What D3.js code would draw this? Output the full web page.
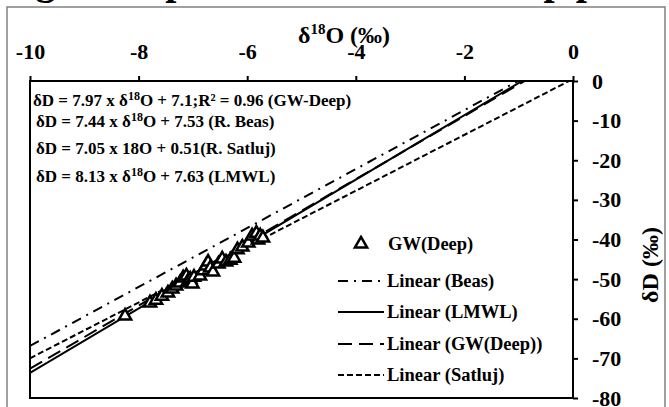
<!DOCTYPE html>
<html>
<head>
<meta charset="utf-8">
<script src="https://cdn.jsdelivr.net/npm/d3@7"></script>
<style>
  body { margin: 0; background: #ffffff; }
  svg { display: block; font-family: "Liberation Serif", "Times New Roman", serif; font-weight: bold; }
</style>
</head>
<body>
<script>
// chart data
var xTicks = [-10, -8, -6, -4, -2, 0];
var yTicks = [0, -10, -20, -30, -40, -50, -60, -70, -80];

// deep groundwater samples (d18O, dD)
var gwX = [-8.25, -7.79, -7.68, -7.57, -7.46, -7.38, -7.31, -7.24, -7.18, -7.12,
           -7.09, -7.05, -7.01, -6.98, -6.87, -6.81, -6.76, -6.72, -6.68, -6.63,
           -6.53, -6.46, -6.39, -6.31, -6.24, -6.18, -6.09, -5.98, -5.91, -5.83,
           -5.80, -5.76, -5.71];
var gwY = [-59.3, -56.0, -55.3, -54.3, -53.5, -52.5, -51.7, -51.0, -49.7, -49.2,
           -50.5, -50.0, -51.2, -49.5, -49.2, -47.9, -46.7, -45.7, -47.2, -48.2,
           -46.2, -44.9, -45.7, -45.2, -44.7, -42.6, -41.9, -40.9, -39.1, -38.4,
           -40.1, -39.1, -39.6];

// regression lines
var fitNames = ["Linear (Beas)", "Linear (LMWL)", "Linear (GW(Deep))", "Linear (Satluj)"];
var fitSlopes = [7.44, 8.13, 7.97, 7.05];
var fitIntercepts = [7.53, 7.63, 7.1, 0.51];
var fitDashes = ["10,6,2,6", null, "14,7", "6,3"];

// equation labels: text before the superscript, superscript, text after
var eqBefore = ["δD = 7.97 x δ", "δD = 7.44 x δ", "δD = 7.05 x 18O + 0.51(R. Satluj)", "δD = 8.13 x δ"];
var eqSup = ["18", "18", "", "18"];
var eqAfter = ["O + 7.1;R² = 0.96 (GW-Deep)", "O + 7.53 (R. Beas)", "", "O + 7.63 (LMWL)"];

// svg variables
var width = 669;
var height = 407;
var left = 30;
var right = 573;
var top_ = 81;
var bottom = 398;

var svg = d3.select("body")
  .append("svg")
  .attr("width", width)
  .attr("height", height);

// outer chart border
svg.append("rect")
   .attr("x", 7)
   .attr("y", 7)
   .attr("width", 658)
   .attr("height", 430)
   .attr("fill", "none")
   .attr("stroke", "#808080")
   .attr("stroke-width", 1.5);

// title, only its lower part is left in the picture
var title = svg.append("text")
   .attr("x", 0)
   .attr("y", -6)
   .style("font-size", "40px")
   .text("Fig. 3 δD plot of δ");
title.append("tspan").attr("dy", -14).style("font-size", "26px").text("18");
title.append("tspan").attr("dy", 14).text("O for all deep piezometers");

// scales
var xScale = d3.scaleLinear().domain([-10, 0]).range([left, right]);
var yScale = d3.scaleLinear().domain([-80, 0]).range([bottom, top_]);

// plain hyphen for negative tick labels
var plainFormat = function(d) { return String(d); };

// clip for trendlines
svg.append("clipPath")
   .attr("id", "plotClip")
   .append("rect")
   .attr("x", left)
   .attr("y", top_)
   .attr("width", right - left)
   .attr("height", bottom - top_);

// x axis on top
var xAxis = d3.axisTop(xScale).tickValues(xTicks).tickFormat(plainFormat)
              .tickSize(5).tickSizeOuter(0).tickPadding(17);
var gx = svg.append("g")
   .attr("transform", "translate(0," + top_ + ")")
   .call(xAxis);
gx.select(".domain").remove();
gx.selectAll("line").attr("stroke", "#000").attr("stroke-width", 2);
gx.selectAll("text")
  .attr("fill", "#000")
  .style("font-size", "22px")
  .style("font-family", "Liberation Serif")
  .style("font-weight", "bold");

// y axis on the right
var yAxis = d3.axisRight(yScale).tickValues(yTicks).tickFormat(plainFormat)
              .tickSize(5).tickSizeOuter(0).tickPadding(14);
var gy = svg.append("g")
   .attr("transform", "translate(" + right + ",0)")
   .call(yAxis);
gy.select(".domain").remove();
gy.selectAll("line").attr("stroke", "#000").attr("stroke-width", 2);
gy.selectAll("text")
  .attr("fill", "#000")
  .style("font-size", "22px")
  .style("font-family", "Liberation Serif")
  .style("font-weight", "bold");

// plot area frame
svg.append("rect")
   .attr("x", left)
   .attr("y", top_)
   .attr("width", right - left)
   .attr("height", bottom - top_)
   .attr("fill", "none")
   .attr("stroke", "#000")
   .attr("stroke-width", 2);

// axis titles
var xTitle = svg.append("text")
   .attr("x", 344)
   .attr("y", 43)
   .attr("text-anchor", "middle")
   .style("font-size", "24px")
   .text("δ");
xTitle.append("tspan").attr("dy", -9).style("font-size", "15px").text("18");
xTitle.append("tspan").attr("dy", 9).text("O (‰)");

svg.append("text")
   .attr("transform", "translate(658,265) rotate(-90)")
   .attr("text-anchor", "middle")
   .style("font-size", "24px")
   .text("δD (‰)");

// trendlines
var lines = svg.append("g").attr("clip-path", "url(#plotClip)");
for (var i = 0; i < fitNames.length; i++) {
  var pts = [-10, 0].map(function(v) { return [v, fitSlopes[i] * v + fitIntercepts[i]]; });
  lines.append("path")
       .attr("d", d3.line().x(function(d) { return xScale(d[0]); }).y(function(d) { return yScale(d[1]); })(pts))
       .attr("fill", "none")
       .attr("stroke", "#000")
       .attr("stroke-width", 2)
       .attr("stroke-dasharray", fitDashes[i]);
}

// groundwater points as open triangles
var triangle = d3.symbol().type(d3.symbolTriangle).size(65);
svg.append("g")
   .selectAll("path")
   .data(gwX)
   .enter()
   .append("path")
   .attr("d", triangle)
   .attr("transform", function(d, i) {
      return "translate(" + xScale(d) + "," + yScale(gwY[i]) + ")";
   })
   .attr("fill", "#fff")
   .attr("stroke", "#000")
   .attr("stroke-width", 2.5);

// equations
var eqY = [106, 127, 154, 182];
var eqX = [33, 36, 36, 36];
for (var j = 0; j < eqBefore.length; j++) {
  var t = svg.append("text")
     .attr("x", eqX[j])
     .attr("y", eqY[j])
     .style("font-size", "17px")
     .text(eqBefore[j]);
  if (eqSup[j] !== "") {
    t.append("tspan").attr("dy", -6).style("font-size", "12px").text(eqSup[j]);
    t.append("tspan").attr("dy", 6).text(eqAfter[j]);
  }
}

// legend
var legend = svg.append("g");
legend.append("path")
      .attr("d", triangle)
      .attr("transform", "translate(361,244)")
      .attr("fill", "#fff")
      .attr("stroke", "#000")
      .attr("stroke-width", 2.5);
legend.append("text")
      .attr("x", 388)
      .attr("y", 250)
      .style("font-size", "18.5px")
      .text("GW(Deep)");

var legendY = [281, 312, 344, 375];
for (var k = 0; k < fitNames.length; k++) {
  legend.append("line")
        .attr("x1", 338)
        .attr("x2", 384)
        .attr("y1", legendY[k])
        .attr("y2", legendY[k])
        .attr("stroke", "#000")
        .attr("stroke-width", 2)
        .attr("stroke-dasharray", fitDashes[k]);
  legend.append("text")
        .attr("x", 387)
        .attr("y", legendY[k] + 6)
        .style("font-size", "18.5px")
        .text(fitNames[k]);
}
</script>
</body>
</html>
